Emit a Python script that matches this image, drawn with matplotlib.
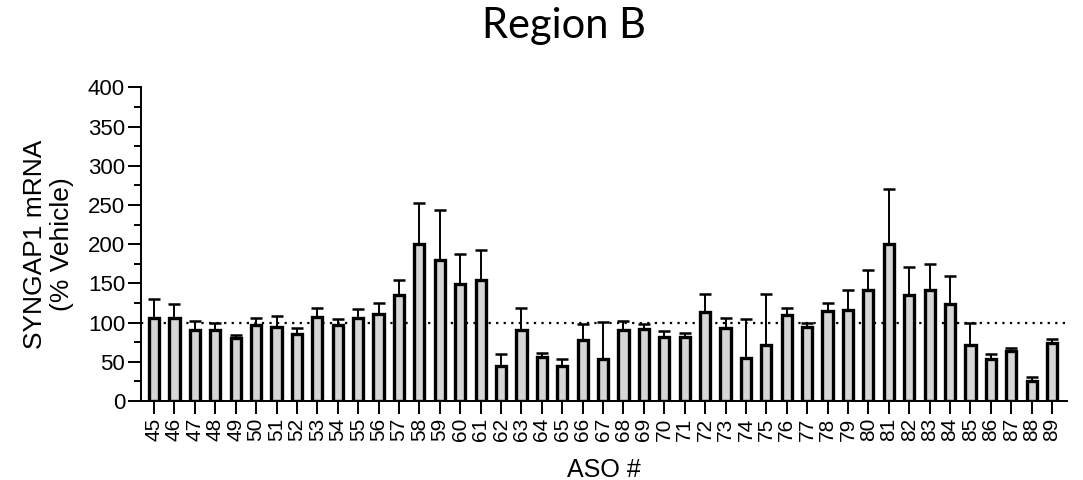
import matplotlib
matplotlib.use("Agg")
import matplotlib.pyplot as plt
import numpy as np
from matplotlib.ticker import MultipleLocator

aso_ids = [str(i) for i in range(45, 90)]
means = [106, 106, 90, 90, 80, 97, 94, 86, 107, 97, 106, 111, 135, 200,
         180, 149, 154, 44, 90, 56, 44, 78, 53, 90, 92, 81, 82, 113, 93,
         55, 71, 110, 94, 115, 116, 142, 200, 135, 142, 124, 72, 54, 64, 26, 74]
upper_err = [24, 18, 12, 10, 4, 9, 15, 7, 12, 8, 11, 14, 19, 52,
             63, 39, 38, 16, 29, 5, 9, 20, 48, 12, 6, 8, 5, 24, 13,
             49, 66, 8, 5, 10, 25, 25, 71, 36, 33, 36, 27, 6, 4, 5, 5]

plt.rcParams['font.family'] = ['Liberation Sans', 'DejaVu Sans']

fig = plt.figure(figsize=(10.83, 4.8), dpi=100)
ax = fig.add_axes([0.1302, 0.1646, 0.855, 0.6534])

x = np.arange(len(aso_ids))
ax.axhline(100, color='black', lw=1.6, linestyle=(0, (1, 2.4)), zorder=1)
ax.bar(x, means, width=0.5, color='#d6d6d6', edgecolor='black', linewidth=2.4, zorder=3)
ax.errorbar(x, means, yerr=[np.zeros(len(means)), upper_err], fmt='none',
            ecolor='black', elinewidth=1.4, capsize=4, capthick=1.8, zorder=2)

ax.set_xlim(-0.64, 44.73)
ax.set_ylim(0, 400)
ax.set_xticks(x)
ax.set_xticklabels(aso_ids, rotation=90, fontsize=15)
ax.yaxis.set_major_locator(MultipleLocator(50))
ax.yaxis.set_minor_locator(MultipleLocator(25))
ax.tick_params(axis='y', which='major', labelsize=16, length=9.5, width=1.4, direction='out', pad=2)
ax.tick_params(axis='y', which='minor', length=5, width=1.4, direction='out')
ax.tick_params(axis='x', which='major', length=9, width=1.4, direction='out', pad=3)

for s in ['top', 'right']:
    ax.spines[s].set_visible(False)
for s in ['left', 'bottom']:
    ax.spines[s].set_linewidth(1.4)

ax.set_ylabel('SYNGAP1 mRNA\n(% Vehicle)', fontsize=19, labelpad=10, linespacing=1.15)
ax.set_xlabel('ASO #', fontsize=18, labelpad=12)
fig.text(0.521, 0.985, 'Region B', fontsize=30, family=['Lato', 'DejaVu Sans'],
         ha='center', va='top')

fig.savefig('out.png', dpi=100)
